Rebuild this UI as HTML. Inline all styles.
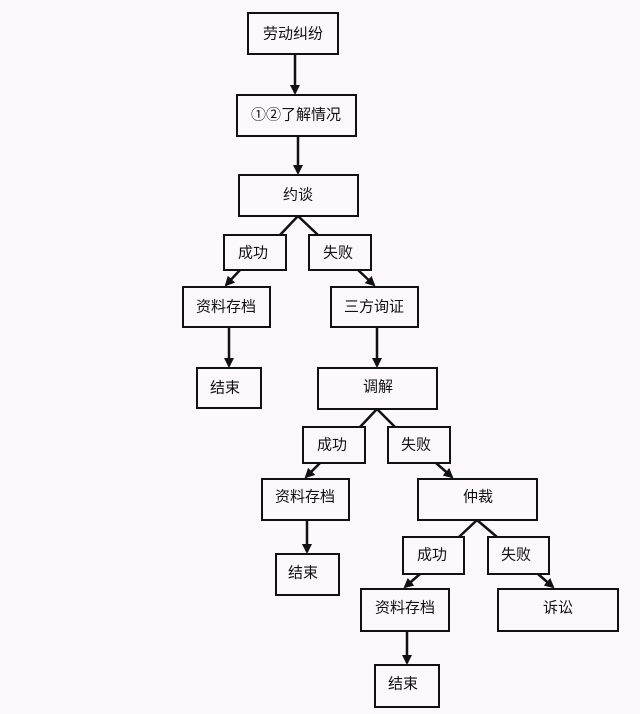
<!DOCTYPE html>
<html><head><meta charset="utf-8"><style>
html,body{margin:0;padding:0;background:#fdf8fb;}
svg{display:block}
text{font-family:"Liberation Sans","Noto Sans CJK SC",sans-serif;font-size:15px;fill:#111;text-anchor:middle;dominant-baseline:central}
</style></head><body>
<svg width="640" height="714" viewBox="0 0 640 714" xmlns="http://www.w3.org/2000/svg">
<defs><marker id="a" markerWidth="10" markerHeight="10" refX="8" refY="5" orient="auto" markerUnits="userSpaceOnUse"><path d="M0,0 L10,5 L0,10 z" fill="#111"/></marker></defs>
<g fill="none" stroke="#111" stroke-width="2">
<rect x="248" y="13" width="90" height="41"/>
<rect x="237" y="95" width="119" height="41"/>
<rect x="239" y="175" width="119" height="41"/>
<rect x="224" y="235" width="62" height="35"/>
<rect x="309" y="235" width="62" height="35"/>
<rect x="183" y="287" width="87" height="40"/>
<rect x="331" y="287" width="87" height="40"/>
<rect x="197" y="368" width="64" height="40"/>
<rect x="318" y="368" width="119" height="41"/>
<rect x="303" y="427" width="62" height="36"/>
<rect x="388" y="427" width="62" height="36"/>
<rect x="262" y="479" width="87" height="41"/>
<rect x="418" y="479" width="119" height="41"/>
<rect x="276" y="554" width="63" height="41"/>
<rect x="403" y="537" width="61" height="37"/>
<rect x="488" y="537" width="61" height="37"/>
<rect x="361" y="589" width="88" height="42"/>
<rect x="498" y="589" width="120" height="42"/>
<rect x="375" y="665" width="64" height="42"/>
</g>
<g stroke="#111" stroke-width="2.5" fill="none">
<line x1="295" y1="54" x2="295" y2="93" marker-end="url(#a)"/>
<line x1="298" y1="136" x2="298" y2="173" marker-end="url(#a)"/>
<line x1="298" y1="216" x2="280" y2="235"/><line x1="298" y1="216" x2="318" y2="235"/>
<line x1="240" y1="270" x2="226" y2="285" marker-end="url(#a)"/>
<line x1="358" y1="270" x2="374" y2="285" marker-end="url(#a)"/>
<line x1="229" y1="327" x2="229" y2="366" marker-end="url(#a)"/>
<line x1="377" y1="327" x2="377" y2="366" marker-end="url(#a)"/>
<line x1="377" y1="409" x2="360" y2="427"/><line x1="377" y1="409" x2="395" y2="427"/>
<line x1="320" y1="463" x2="306" y2="477" marker-end="url(#a)"/>
<line x1="436" y1="463" x2="452" y2="477" marker-end="url(#a)"/>
<line x1="307" y1="520" x2="307" y2="552" marker-end="url(#a)"/>
<line x1="477" y1="520" x2="459" y2="537"/><line x1="477" y1="520" x2="497" y2="537"/>
<line x1="420" y1="574" x2="405" y2="587" marker-end="url(#a)"/>
<line x1="538" y1="574" x2="553" y2="587" marker-end="url(#a)"/>
<line x1="407" y1="631" x2="407" y2="663" marker-end="url(#a)"/>
</g>
<text x="293" y="34">劳动纠纷</text>
<text x="296" y="115">①②了解情况</text>
<text x="298" y="195">约谈</text>
<text x="253" y="253">成功</text>
<text x="338" y="253">失败</text>
<text x="226" y="307">资料存档</text>
<text x="374" y="307">三方询证</text>
<text x="225" y="388">结束</text>
<text x="378" y="387">调解</text>
<text x="332" y="445">成功</text>
<text x="416" y="445">失败</text>
<text x="305" y="497">资料存档</text>
<text x="478" y="497">仲裁</text>
<text x="303" y="573">结束</text>
<text x="432" y="555">成功</text>
<text x="516" y="555">失败</text>
<text x="405" y="608">资料存档</text>
<text x="558" y="608">诉讼</text>
<text x="403" y="684">结束</text>
</svg>
</body></html>
